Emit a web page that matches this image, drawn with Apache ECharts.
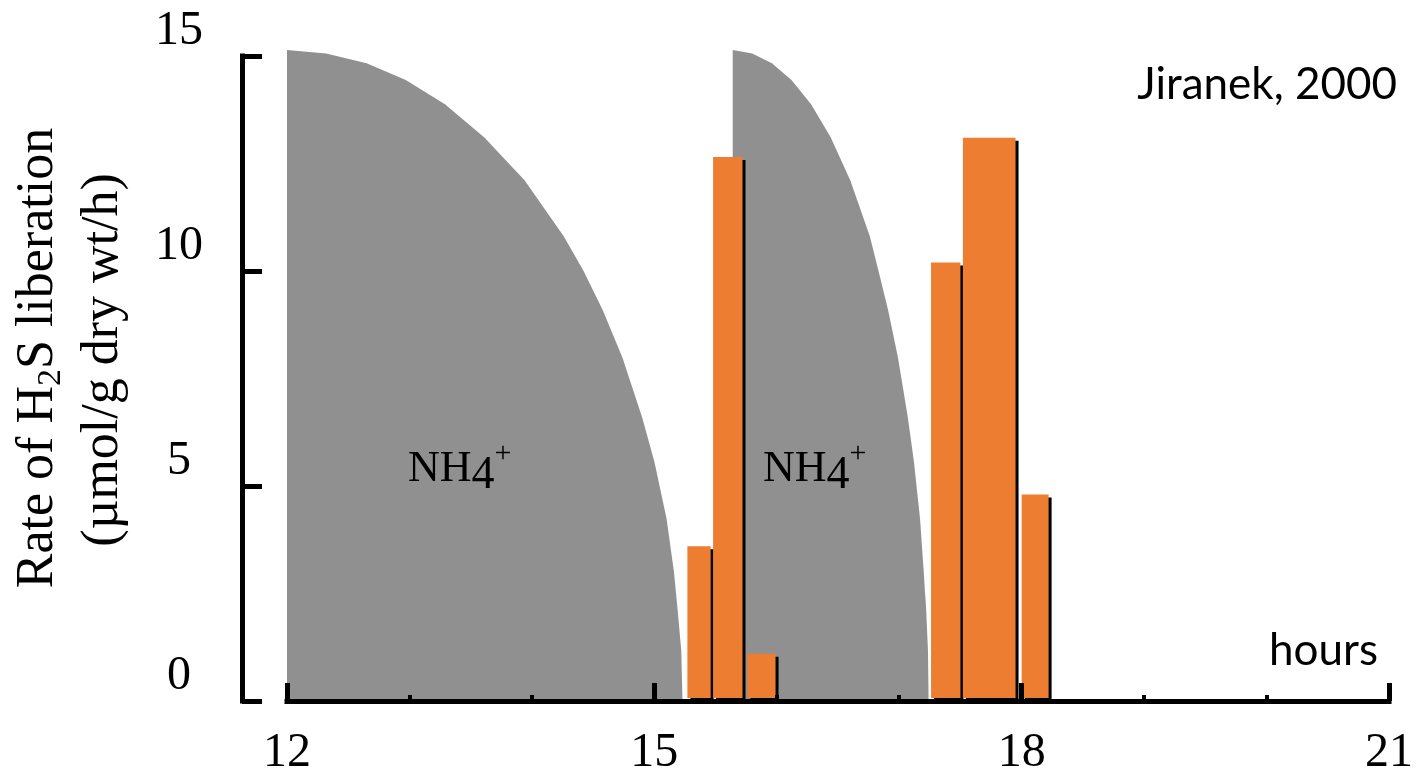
<!DOCTYPE html>
<html>
<head>
<meta charset="utf-8">
<script src="https://cdn.jsdelivr.net/npm/echarts@6/dist/echarts.min.js"></script>
<style>
html,body{margin:0;padding:0;background:#fff;}
#chart{width:1419px;height:777px;}
</style>
</head>
<body>
<div id="chart"></div>
<script>
// ---- data ----
const xTickValues = [12, 15, 18, 21];
const yTickValues = [0, 5, 10, 15];

// first NH4+ pulse envelope (hours, rate)
const grayA_x = [12.00, 12.32, 12.65, 12.97, 13.29, 13.61, 13.94, 14.26, 14.42, 14.58, 14.74, 14.90, 15.00, 15.10, 15.16, 15.19, 15.22, 15.23];
const grayA_y = [15.14, 15.06, 14.83, 14.44, 13.88, 13.11, 12.11, 10.81, 10.01, 9.08, 7.98, 6.60, 5.57, 4.24, 3.01, 2.13, 1.17, 0];

// second NH4+ pulse envelope
const grayB_x = [15.64, 15.80, 15.96, 16.12, 16.28, 16.44, 16.60, 16.76, 16.83, 16.91, 16.99, 17.07, 17.12, 17.17, 17.20, 17.22, 17.235, 17.24];
const grayB_y = [15.14, 15.06, 14.83, 14.44, 13.88, 13.11, 12.11, 10.81, 10.01, 9.08, 7.98, 6.60, 5.57, 4.24, 3.01, 2.13, 1.17, 0];

// H2S liberation bars: start hour, end hour, rate
const barStart = [15.27, 15.48, 15.76, 17.26, 17.52, 18.00];
const barEnd   = [15.46, 15.72, 15.99, 17.50, 17.95, 18.22];
const barValue = [3.6, 12.65, 1.1, 10.2, 13.1, 4.8];

const labelNH4 = 'NH{sub|4}{sup|+}';
const sourceText = 'Jiranek, 2000';
const xName = 'hours';
const yTitle1 = 'Rate of H{sub|2}S liberation';
const yTitle2 = '(µmol/g dry wt/h)';

// ---- chart ----
const serif = '"Liberation Serif", "Times New Roman", serif';
const sans = 'Lato, "Open Sans", sans-serif';
const chart = echarts.init(document.getElementById('chart'), null, {renderer: 'canvas'});

const zip = (xs, ys) => xs.map((x, i) => [x, ys[i]]);

const nh4Style = {
  text: labelNH4, fill: '#000', fontFamily: serif, fontSize: 44, lineHeight: 60,
  align: 'left', verticalAlign: 'middle', textAlign: 'left', textVerticalAlign: 'middle',
  rich: {
    sub: {fontFamily: serif, fontSize: 46, lineHeight: 38, verticalAlign: 'bottom', fill: '#000'},
    sup: {fontFamily: serif, fontSize: 30, lineHeight: 48, verticalAlign: 'top', fill: '#000'}
  }
};

chart.setOption({
  animation: false,
  backgroundColor: '#fff',
  grid: {left: 287, right: 30, top: 56, bottom: 72, containLabel: false},
  xAxis: {
    type: 'value', min: 12, max: 21, interval: 3, z: 10, offset: 2,
    axisLine: {show: true, lineStyle: {color: '#000', width: 5, cap: 'square'}},
    axisTick: {show: true, inside: true, length: 18, lineStyle: {color: '#000', width: 5}},
    minorTick: {show: true, splitNumber: 3, length: 6, lineStyle: {color: '#000', width: 4}},
    axisLabel: {color: '#000', fontFamily: serif, fontSize: 48, margin: 26,
      formatter: v => xTickValues.includes(v) ? String(v) : ''},
    splitLine: {show: false}
  },
  yAxis: {
    type: 'value', min: 0, max: 15, interval: 5, z: 10, offset: 45,
    axisLine: {show: true, lineStyle: {color: '#000', width: 5, cap: 'square'}},
    axisTick: {show: true, inside: true, length: 20, lineStyle: {color: '#000', width: 5}},
    axisLabel: {color: '#000', fontFamily: serif, fontSize: 48, margin: 63, align: 'center',
      verticalAlign: 'bottom', lineHeight: 50,
      formatter: v => yTickValues.includes(v) ? String(v) : ''},
    splitLine: {show: false}
  },
  series: [
    {
      type: 'line', data: zip(grayA_x, grayA_y), showSymbol: false, clip: false, smooth: false,
      lineStyle: {width: 0, color: '#909090'}, areaStyle: {color: '#909090', opacity: 1}, z: 1
    },
    {
      type: 'line', data: zip(grayB_x, grayB_y), showSymbol: false, clip: false, smooth: false,
      lineStyle: {width: 0, color: '#909090'}, areaStyle: {color: '#909090', opacity: 1}, z: 1
    },
    {
      type: 'custom', z: 3, clip: false,
      data: barStart.map((s, i) => [s, barEnd[i], barValue[i]]),
      encode: {x: [0, 1], y: 2},
      renderItem: function (params, api) {
        const p0 = api.coord([api.value(0), api.value(2)]);
        const p1 = api.coord([api.value(1), 0]);
        const w = p1[0] - p0[0], h = p1[1] - p0[1];
        return {
          type: 'group',
          children: [
            {type: 'rect', shape: {x: p0[0] + 3, y: p0[1] + 3, width: w, height: h}, style: {fill: '#000'}},
            {type: 'rect', shape: {x: p0[0], y: p0[1], width: w, height: h - 3}, style: {fill: '#ED7D31'}}
          ]
        };
      }
    }
  ],
  graphic: [
    {
      type: 'text', x: 38, y: 358, rotation: Math.PI / 2, z: 20,
      style: {
        text: yTitle1, fill: '#000', fontFamily: serif, fontSize: 52, lineHeight: 60,
        align: 'center', verticalAlign: 'middle', textAlign: 'center', textVerticalAlign: 'middle',
        rich: {sub: {fontFamily: serif, fontSize: 34, lineHeight: 34, verticalAlign: 'bottom', fill: '#000'}}
      }
    },
    {
      type: 'text', x: 103, y: 360, rotation: Math.PI / 2, z: 20,
      style: {
        text: yTitle2, fill: '#000', fontFamily: serif, fontSize: 52,
        align: 'center', verticalAlign: 'middle', textAlign: 'center', textVerticalAlign: 'middle'
      }
    },
    {type: 'text', x: 408, y: 469, z: 20, style: Object.assign({}, nh4Style)},
    {type: 'text', x: 763, y: 469, z: 20, style: Object.assign({}, nh4Style)},
    {
      type: 'text', x: 1397, y: 85, z: 20,
      style: {
        text: sourceText, fill: '#000', fontFamily: sans, fontSize: 44,
        align: 'right', verticalAlign: 'middle', textAlign: 'right', textVerticalAlign: 'middle'
      }
    },
    {
      type: 'text', x: 1378, y: 651, z: 20,
      style: {
        text: xName, fill: '#000', fontFamily: sans, fontSize: 44,
        align: 'right', verticalAlign: 'middle', textAlign: 'right', textVerticalAlign: 'middle'
      }
    }
  ]
});
</script>
</body>
</html>
